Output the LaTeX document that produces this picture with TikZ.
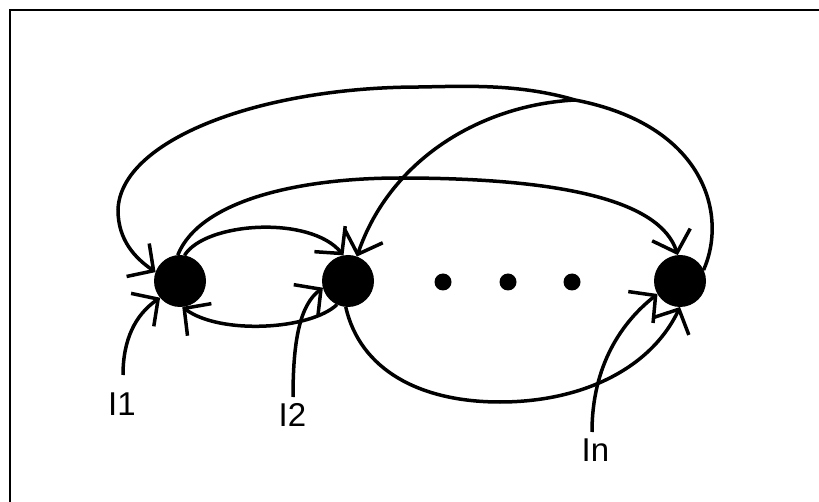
\documentclass[tikz,border=0pt]{standalone}
\usepackage{fontspec}
\setmainfont{Liberation Sans}
\usetikzlibrary{arrows.meta}

\begin{document}
\begin{tikzpicture}[x=1pt,y=1pt,yscale=-1,xscale=1,
	state/.style={circle,fill=black,draw=none,minimum size=52pt,inner sep=0pt,outer sep=0pt},
	dot/.style={circle,fill=black,draw=none,minimum size=17pt,inner sep=0pt},
	line/.style={line width=3.5pt},
	flow/.style={line width=3.5pt,-{Straight Barb[length=19pt,width=40pt]}},
	lbl/.style={inner sep=0pt,font=\fontsize{33}{33}\selectfont}]
	\useasboundingbox (0,0) rectangle (819,502);
	
	%Shape: Frame
	\draw [line width=2.3pt] (10,502) -- (10,10) -- (819,10) ;
	
	%Shape: Circle
	\node [state] (n1) at (180,281) {};
	%Shape: Circle
	\node [state] (n2) at (348,281) {};
	%Shape: Circle
	\node [state] (nn) at (680,281) {};
	%Shape: Dots
	\node [dot] (d1) at (443,282) {};
	\node [dot] (d2) at (508,282) {};
	\node [dot] (d3) at (572,282) {};
	
	% Text Node
	\node [lbl] (l1) at (122,404.5) {I1};
	% Text Node
	\node [lbl] (l2) at (292.5,415) {I2};
	% Text Node
	\node [lbl] (ln) at (595.5,450.5) {In};
	
	\coordinate (s1) at (123,375);
	\coordinate (s2) at (293,397);
	\coordinate (sn) at (592,432);
	\coordinate (sp) at (575,100);
	
	%Curve Lines: outer loop
	\draw [flow] (nn.25) .. controls (728,215) and (705,125) .. (sp) .. controls (520,84) and (470,86) .. (420,87) .. controls (260,87) and (120,140) .. (118,210) .. controls (118,240) and (135,258) .. (n1.160) ;
	%Curve Lines: branch
	\draw [flow] (sp) .. controls (480,105) and (390,160) .. (n2.70) ;
	%Curve Lines
	\draw [flow] (n1.95) .. controls (200,200) and (300,178) .. (400,178) .. controls (560,178) and (660,200) .. (nn.95) ;
	%Curve Lines
	\draw [flow] (n1.80) .. controls (205,222) and (310,215) .. (n2.100) ;
	%Curve Lines
	\draw [flow] (n2.245) .. controls (310,330) and (220,335) .. (n1.275) ;
	%Curve Lines
	\draw [flow] (n2.265) .. controls (360,370) and (420,402) .. (500,402) .. controls (580,402) and (650,370) .. (nn.270) ;
	
	%Curve Lines: inputs
	\draw [flow] (s1) .. controls (123,340) and (135,315) .. (n1.220) ;
	\draw [flow] (s2) .. controls (293,340) and (300,305) .. (n2.195) ;
	\draw [flow] (sn) .. controls (592,365) and (622,322) .. (nn.210) ;
\end{tikzpicture}
\end{document}
